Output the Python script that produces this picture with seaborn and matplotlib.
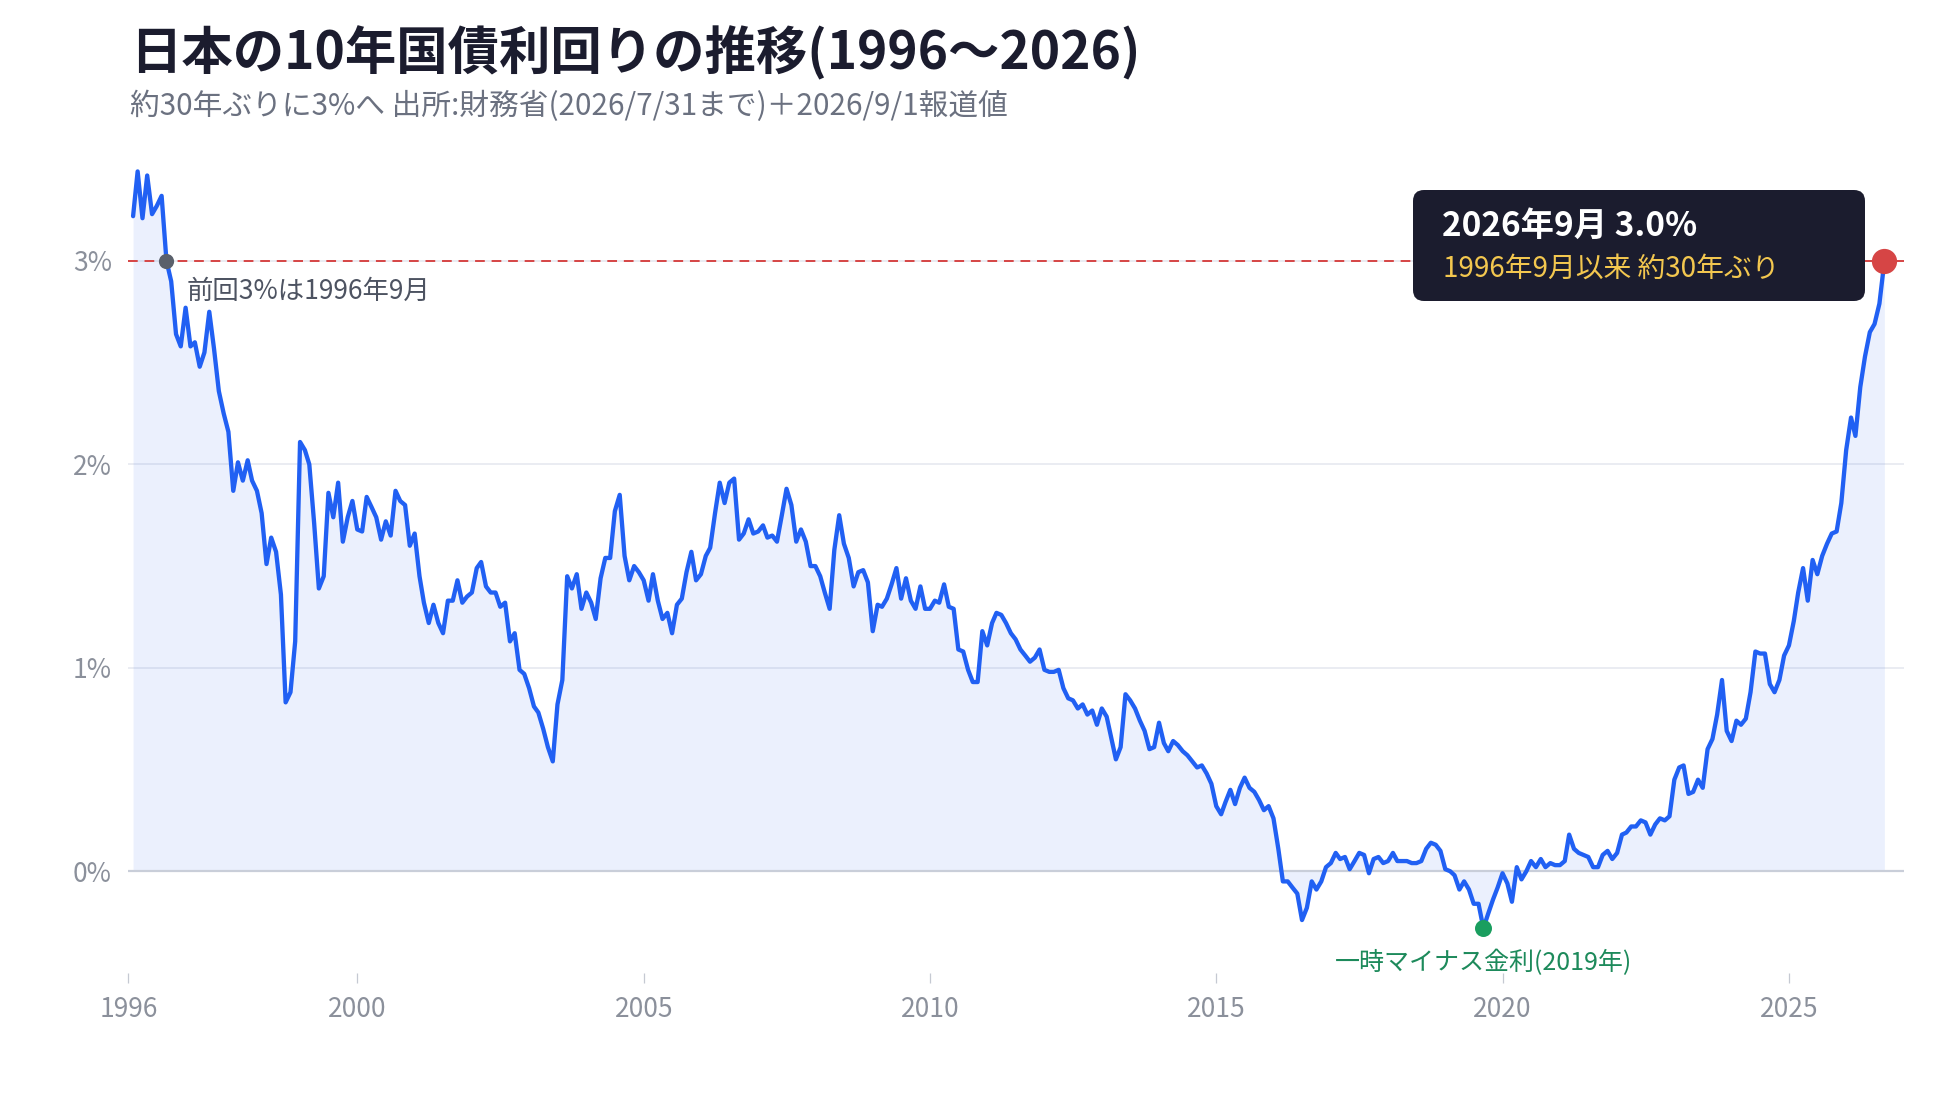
import pandas as pd
import matplotlib
matplotlib.use("Agg")
import matplotlib.pyplot as plt
import seaborn as sns
from matplotlib.patches import FancyBboxPatch
from matplotlib.transforms import IdentityTransform

# 10年国債利回り 月末値(%)  1行 = 1年(1月〜12月)
yields_1996_2005 = [
    3.22, 3.44, 3.21, 3.42, 3.23, 3.27, 3.32, 3.00, 2.90, 2.64, 2.58, 2.77,  # 1996
    2.58, 2.60, 2.48, 2.55, 2.75, 2.57, 2.36, 2.25, 2.16, 1.87, 2.01, 1.92,  # 1997
    2.02, 1.92, 1.87, 1.76, 1.51, 1.64, 1.57, 1.36, 0.83, 0.88, 1.13, 2.11,  # 1998
    2.07, 2.00, 1.71, 1.39, 1.45, 1.86, 1.74, 1.91, 1.62, 1.74, 1.82, 1.68,  # 1999
    1.67, 1.84, 1.79, 1.74, 1.63, 1.72, 1.65, 1.87, 1.82, 1.80, 1.60, 1.66,  # 2000
    1.45, 1.32, 1.22, 1.31, 1.22, 1.17, 1.33, 1.33, 1.43, 1.32, 1.35, 1.37,  # 2001
    1.49, 1.52, 1.40, 1.37, 1.37, 1.30, 1.32, 1.13, 1.17, 0.99, 0.97, 0.90,  # 2002
    0.81, 0.78, 0.70, 0.61, 0.54, 0.82, 0.94, 1.45, 1.39, 1.46, 1.29, 1.37,  # 2003
    1.32, 1.24, 1.44, 1.54, 1.54, 1.77, 1.85, 1.55, 1.43, 1.50, 1.47, 1.43,  # 2004
    1.33, 1.46, 1.33, 1.24, 1.27, 1.17, 1.31, 1.34, 1.47, 1.57, 1.43, 1.46,  # 2005
]
yields_2006_2015 = [
    1.55, 1.59, 1.76, 1.91, 1.81, 1.91, 1.93, 1.63, 1.66, 1.73, 1.66, 1.67,  # 2006
    1.70, 1.64, 1.65, 1.62, 1.75, 1.88, 1.80, 1.62, 1.68, 1.62, 1.50, 1.50,  # 2007
    1.45, 1.37, 1.29, 1.58, 1.75, 1.61, 1.54, 1.40, 1.47, 1.48, 1.42, 1.18,  # 2008
    1.31, 1.30, 1.34, 1.41, 1.49, 1.34, 1.44, 1.33, 1.29, 1.40, 1.29, 1.29,  # 2009
    1.33, 1.32, 1.41, 1.30, 1.29, 1.09, 1.08, 0.99, 0.93, 0.93, 1.18, 1.11,  # 2010
    1.22, 1.27, 1.26, 1.22, 1.17, 1.14, 1.09, 1.06, 1.03, 1.05, 1.09, 0.99,  # 2011
    0.98, 0.98, 0.99, 0.90, 0.85, 0.84, 0.80, 0.82, 0.77, 0.79, 0.72, 0.80,  # 2012
    0.76, 0.66, 0.55, 0.61, 0.87, 0.84, 0.80, 0.74, 0.69, 0.60, 0.61, 0.73,  # 2013
    0.63, 0.59, 0.64, 0.62, 0.59, 0.57, 0.54, 0.51, 0.52, 0.48, 0.43, 0.32,  # 2014
    0.28, 0.34, 0.40, 0.33, 0.41, 0.46, 0.41, 0.39, 0.35, 0.30, 0.32, 0.26,  # 2015
]
yields_2016_2026 = [
    0.11, -0.05, -0.05, -0.08, -0.11, -0.24, -0.18, -0.05, -0.09, -0.05, 0.02, 0.04,  # 2016
    0.09, 0.06, 0.07, 0.01, 0.05, 0.09, 0.08, -0.01, 0.06, 0.07, 0.04, 0.05,  # 2017
    0.09, 0.05, 0.05, 0.05, 0.04, 0.04, 0.05, 0.11, 0.14, 0.13, 0.10, 0.01,  # 2018
    0.00, -0.02, -0.09, -0.05, -0.09, -0.16, -0.16, -0.28, -0.21, -0.14, -0.08, -0.01,  # 2019
    -0.06, -0.15, 0.02, -0.04, 0.00, 0.05, 0.02, 0.06, 0.02, 0.04, 0.03, 0.03,  # 2020
    0.05, 0.18, 0.11, 0.09, 0.08, 0.07, 0.02, 0.02, 0.08, 0.10, 0.06, 0.09,  # 2021
    0.18, 0.19, 0.22, 0.22, 0.25, 0.24, 0.18, 0.23, 0.26, 0.25, 0.27, 0.45,  # 2022
    0.51, 0.52, 0.38, 0.39, 0.45, 0.41, 0.60, 0.65, 0.77, 0.94, 0.69, 0.64,  # 2023
    0.74, 0.72, 0.75, 0.88, 1.08, 1.07, 1.07, 0.92, 0.88, 0.94, 1.06, 1.11,  # 2024
    1.23, 1.37, 1.49, 1.33, 1.53, 1.46, 1.55, 1.61, 1.66, 1.67, 1.81, 2.07,  # 2025
    2.23, 2.14, 2.38, 2.53, 2.65, 2.69, 2.79,                                # 2026(1〜7月)
]
# 報道値
last_date = "2026-09-01"
last_yield = 3.0

tick_years = [1996, 2000, 2005, 2010, 2015, 2020, 2025]
y_ticks = [0, 1, 2, 3]
y_tick_labels = ["0%", "1%", "2%", "3%"]

title = "日本の10年国債利回りの推移(1996〜2026)"
subtitle = "約30年ぶりに3%へ 出所:財務省(2026/7/31まで)＋2026/9/1報道値"
prev_label = "前回3%は1996年9月"
neg_label = "一時マイナス金利(2019年)"
box_line1 = "2026年9月 3.0%"
box_line2 = "1996年9月以来 約30年ぶり"

# 月末の日付を作ってデータフレームにまとめる
monthly = yields_1996_2005 + yields_2006_2015 + yields_2016_2026
dates = pd.date_range("1996-02-01", periods=len(monthly), freq="MS") - pd.Timedelta(days=1)
df = pd.DataFrame({
    "date": list(dates) + [pd.Timestamp(last_date)],
    "yield": monthly + [last_yield],
})

prev_idx = (df["yield"] <= 3.0).idxmax()   # 初めて3%以下になった点
min_idx = df["yield"].idxmin()             # 最低値
end_idx = df.index[-1]

sns.set_theme(style="white")
plt.rcParams["font.family"] = ["Noto Sans CJK JP", "DejaVu Sans"]

fig = plt.figure(figsize=(19.6, 11.2), dpi=100)
ax = fig.add_axes([0.0655, 0.1313, 0.9057, 0.7447])

# 塗りつぶし・折れ線
ax.fill_between(df["date"], df["yield"], 0, color="#2563eb", alpha=0.09, linewidth=0, zorder=1)
sns.lineplot(data=df, x="date", y="yield", ax=ax, color="#2160f3", linewidth=3.1, zorder=4)

# 基準線
ax.axhline(0, color="#c9ced9", lw=1.6, zorder=2)
ax.axhline(3.0, color="#d64545", lw=1.4, ls=(0, (5, 3.5)), zorder=3)

# 点
ax.scatter(df.loc[prev_idx, "date"], df.loc[prev_idx, "yield"], s=120, color="#5a606b", zorder=5, linewidths=0)
ax.scatter(df.loc[min_idx, "date"], df.loc[min_idx, "yield"], s=150, color="#1a9e5f", zorder=5, linewidths=0)
ax.scatter(df.loc[end_idx, "date"], df.loc[end_idx, "yield"], s=330, color="#d64545", zorder=6, linewidths=0)

ax.annotate(prev_label, xy=(df.loc[prev_idx, "date"], df.loc[prev_idx, "yield"]),
            xytext=(14.5, -22), textcoords="offset points",
            ha="left", va="center", fontsize=19, color="#4d5361")
ax.annotate(neg_label, xy=(df.loc[min_idx, "date"], df.loc[min_idx, "yield"]),
            xytext=(0, -25), textcoords="offset points",
            ha="center", va="center", fontsize=18, color="#1d8a5b")

# 軸
ax.set_xlim(pd.Timestamp("1996-01-01"), pd.Timestamp("2027-01-01"))
ax.set_ylim(-0.5, 3.6)
ax.set_xticks([pd.Timestamp(f"{y}-01-01") for y in tick_years])
ax.set_xticklabels([str(y) for y in tick_years])
ax.set_yticks(y_ticks)
ax.set_yticklabels(y_tick_labels)
ax.set_xlabel("")
ax.set_ylabel("")
ax.yaxis.grid(True, color="#e8ebf1", lw=1.3)
ax.set_axisbelow(True)
for s in ax.spines.values():
    s.set_visible(False)
ax.tick_params(axis="x", bottom=True, length=7.2, width=0.9, color="#c5c9d2",
               labelsize=19, labelcolor="#8b909b", pad=9.5)
ax.tick_params(axis="y", left=False, labelsize=19, labelcolor="#8b909b", pad=6)

# 吹き出し
box = FancyBboxPatch((1413, 819), 452, 111, boxstyle="round,pad=0,rounding_size=11",
                     transform=IdentityTransform(), facecolor="#1b1c2e", edgecolor="none", zorder=5)
fig.add_artist(box)
fig.text(1442 / 1960, 1 - 226 / 1120, box_line1, color="white", fontsize=24,
         fontweight="bold", va="center", ha="left", zorder=6)
fig.text(1443 / 1960, 1 - 269 / 1120, box_line2, color="#f3c74f", fontsize=20,
         va="center", ha="left", zorder=6)

# タイトル
fig.text(130 / 1960, 1 - 53 / 1120, title, fontsize=37, fontweight="bold",
         color="#1b1c2e", va="center", ha="left")
fig.text(130 / 1960, 1 - 106 / 1120, subtitle, fontsize=21.4, color="#6b7180",
         va="center", ha="left")

fig.savefig("out.png", dpi=100)
